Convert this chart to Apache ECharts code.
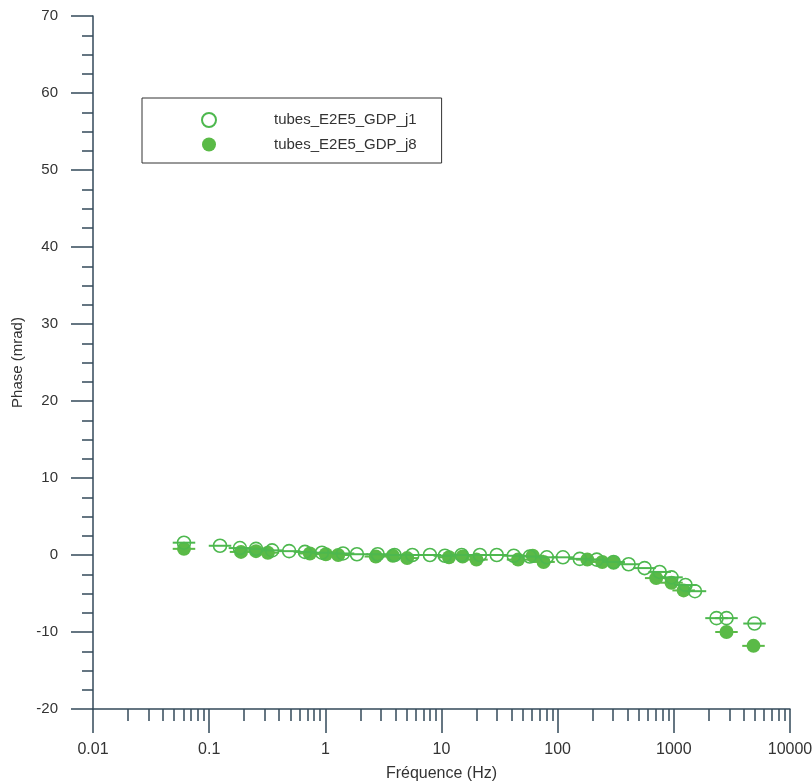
<!DOCTYPE html>
<html>
<head>
<meta charset="utf-8">
<script src="https://cdn.jsdelivr.net/npm/echarts@6/dist/echarts.min.js"></script>
<style>html,body{margin:0;padding:0;background:#fff;}#c{width:812px;height:783px;}</style>
</head>
<body>
<div id="c"></div>
<script>
// ---- data ----
const seriesNames = ['tubes_E2E5_GDP_j1', 'tubes_E2E5_GDP_j8'];
const j1Freq  = [0.0607, 0.124, 0.184, 0.253, 0.348, 0.488, 0.667, 0.935, 1.42, 1.87, 2.82, 3.94, 5.61, 7.95, 10.7, 14.9, 21.4, 29.9, 41.9, 57.5, 80.6, 111, 155, 217, 303, 408, 560, 755, 955, 1260, 1520, 2330, 2840, 4950];
const j1Phase = [1.6, 1.2, 0.9, 0.8, 0.6, 0.5, 0.4, 0.3, 0.2, 0.1, 0.1, 0.0, 0.0, 0.0, -0.1, 0.0, 0.0, 0.0, -0.1, -0.2, -0.3, -0.3, -0.5, -0.6, -0.9, -1.2, -1.7, -2.2, -2.9, -3.9, -4.7, -8.2, -8.2, -8.9];
const j8Freq  = [0.0607, 0.188, 0.253, 0.32, 0.736, 1.01, 1.29, 2.72, 3.81, 5.06, 11.6, 15.2, 20.0, 45.6, 61.0, 75.6, 180, 242, 303, 705, 955, 1215, 2840, 4850];
const j8Phase = [0.8, 0.4, 0.5, 0.3, 0.2, 0.1, 0.0, -0.2, -0.1, -0.4, -0.3, -0.2, -0.6, -0.6, -0.1, -0.9, -0.6, -0.9, -1.0, -3.0, -3.6, -4.6, -10.0, -11.8];
const xTickLabels = ['0.01', '0.1', '1', '10', '100', '1000', '10000'];
const errFactor = 1.25;

// ---- build ----
const green = '#5aba47';
const greenLine = '#4db84e';
const axisColor = '#33495a';
const font = 'Liberation Sans, Arial, sans-serif';
const j1Data = j1Freq.map((f, i) => [f, j1Phase[i]]);
const j8Data = j8Freq.map((f, i) => [f, j8Phase[i]]);
const minorVals = [];
for (let e = -2; e < 4; e++) {
  for (let m = 2; m <= 9; m++) minorVals.push(+(m * Math.pow(10, e)).toPrecision(3));
}
function errBar(color) {
  return function (params, api) {
    const x = api.value(0), y = api.value(1);
    const p1 = api.coord([x / errFactor, y]);
    const p2 = api.coord([x * errFactor, y]);
    return { type: 'line', shape: { x1: p1[0], y1: p1[1], x2: p2[0], y2: p2[1] },
      style: { stroke: color, lineWidth: 2 } };
  };
}
const chart = echarts.init(document.getElementById('c'), null, { renderer: 'canvas' });
chart.setOption({
  backgroundColor: '#ffffff',
  animation: false,
  grid: { left: 93, right: 22, top: 16, bottom: 74, containLabel: false, outerBoundsMode: 'none' },
  legend: {
    data: seriesNames,
    orient: 'vertical',
    left: 142, top: 98,
    padding: [14, 25, 11, 59],
    itemGap: 9,
    itemWidth: 14, itemHeight: 14,
    backgroundColor: '#fff',
    borderColor: '#333',
    borderWidth: 1,
    formatter: n => '{t|' + n + '}',
    textStyle: { color: '#333', fontSize: 15, fontFamily: font,
      rich: { t: { padding: [0, 0, 0, 53], color: '#333', fontSize: 15, fontFamily: font } } }
  },
  xAxis: [{
    type: 'log', logBase: 10, min: 0.01, max: 10000,
    name: 'Fréquence (Hz)', nameLocation: 'middle', nameGap: 57,
    nameTextStyle: { color: '#333', fontSize: 16, fontFamily: font },
    axisLine: { show: true, onZero: false, lineStyle: { color: axisColor, width: 1.5 } },
    axisTick: { show: true, inside: false, length: 24, lineStyle: { color: axisColor, width: 1.5 } },
    axisLabel: { color: '#333', fontSize: 16, fontFamily: font, margin: 33,
      formatter: (v, i) => xTickLabels[i] },
    splitLine: { show: false }
  }, {
    type: 'log', logBase: 10, min: 0.01, max: 10000, position: 'bottom', gridIndex: 0,
    axisLine: { show: false, onZero: false },
    axisTick: { show: true, inside: false, length: 12, customValues: minorVals,
      lineStyle: { color: axisColor, width: 1.5 } },
    axisLabel: { show: false },
    splitLine: { show: false }
  }],
  yAxis: {
    type: 'value', min: -20, max: 70, interval: 10,
    name: 'Phase (mrad)', nameLocation: 'middle', nameGap: 62, nameRotate: 90,
    nameTextStyle: { color: '#333', fontSize: 15, fontFamily: font },
    axisLine: { show: true, lineStyle: { color: axisColor, width: 1.5 } },
    axisTick: { show: true, inside: false, length: 22, lineStyle: { color: axisColor, width: 1.5 } },
    minorTick: { show: true, splitNumber: 4, length: 11, lineStyle: { color: axisColor, width: 1.5 } },
    axisLabel: { color: '#333', fontSize: 15, fontFamily: font, margin: 35 },
    splitLine: { show: false }
  },
  series: [
    { type: 'custom', name: 'err8', data: j8Data, renderItem: errBar(green), z: 2, silent: true },
    { type: 'scatter', name: seriesNames[1], data: j8Data, symbol: 'circle', symbolSize: 14,
      itemStyle: { color: green, opacity: 1 }, z: 3 },
    { type: 'custom', name: 'err1', data: j1Data, renderItem: errBar(greenLine), z: 4, silent: true },
    { type: 'scatter', name: seriesNames[0], data: j1Data, symbol: 'circle', symbolSize: 13,
      itemStyle: { color: 'rgba(255,255,255,0)', borderColor: greenLine, borderWidth: 1.6, opacity: 1 }, z: 5 }
  ]
});
</script>
</body>
</html>
